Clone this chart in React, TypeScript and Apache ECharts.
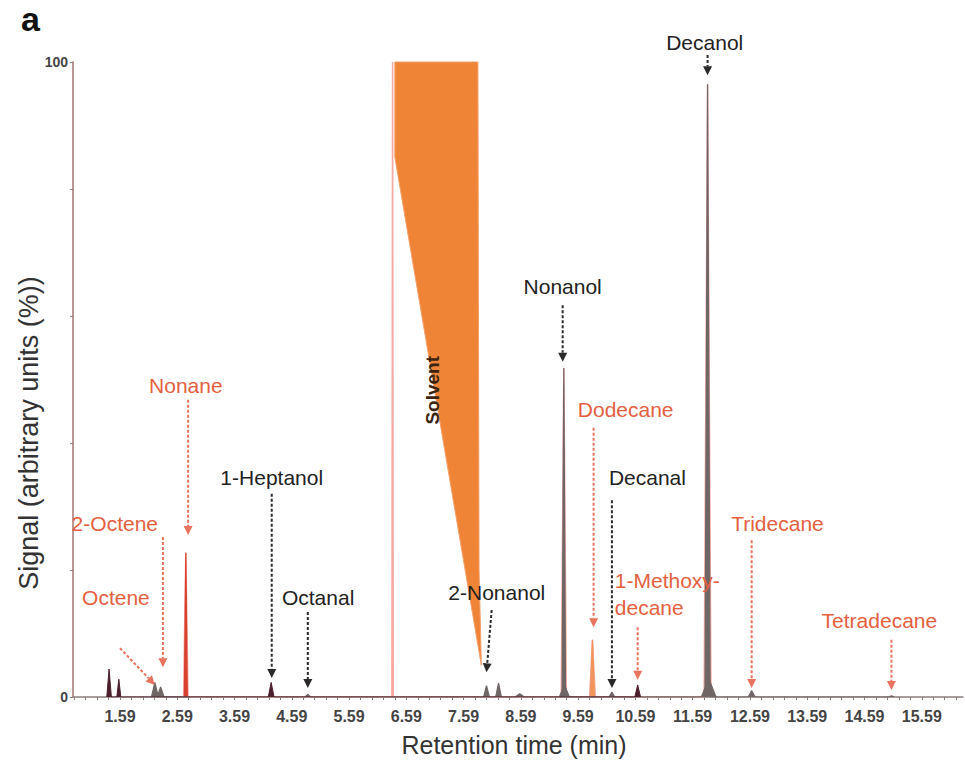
import React, { useEffect, useRef } from 'react';
import * as echarts from 'echarts';

// ---- axis ----
const X_MIN = 0.77;
const X_MAX = 16.31;
const xTickLabels = [1.59, 2.59, 3.59, 4.59, 5.59, 6.59, 7.59, 8.59, 9.59, 10.59, 11.59, 12.59, 13.59, 14.59, 15.59];
const yLabelValues = [0, 100];

// ---- chromatogram peaks (retention time, signal %, half width in min) ----
const pinkPeakTimes = [2.74, 6.35, 9.34, 9.84, 11.85];
const pinkPeakHeights = [22.7, 100, 51.8, 9.0, 96.5];
const pinkPeakHalfWidths = [0.04, 0.012, 0.045, 0.05, 0.06];

const redPeakTimes = [2.74];
const redPeakHeights = [22.7];
const redPeakHalfWidths = [0.025];

const orangePeakTimes = [9.84];
const orangePeakHeights = [9.0];
const orangePeakHalfWidths = [0.035];

const greyPeakTimes = [2.2, 2.3, 4.87, 7.99, 8.2, 8.57, 9.34, 10.18, 11.85, 12.62, 15.06];
const greyPeakHeights = [2.3, 1.6, 0.4, 1.8, 2.2, 0.5, 51.8, 0.8, 96.5, 1.0, 0.2];
const greyPeakHalfWidths = [0.06, 0.06, 0.05, 0.05, 0.05, 0.08, 0.03, 0.05, 0.045, 0.06, 0.05];

// broad feet at the base of the two tallest peaks
const footPeakTimes = [9.35, 11.87];
const footPeakHeights = [2.0, 3.0];
const footPeakHalfWidths = [0.09, 0.13];

const maroonPeakTimes = [1.4, 1.57, 4.23, 10.63];
const maroonPeakHeights = [4.4, 2.8, 2.3, 1.9];
const maroonPeakHalfWidths = [0.04, 0.035, 0.05, 0.05];

// solvent (truncated) outline
const solventTimes = [6.39, 7.84, 7.86, 7.9, 6.39];
const solventSignals = [100, 100, 20, 5, 85];

// ---- annotations ----
const labelNames = ['Decanol', 'Nonanol', 'Nonane', 'Dodecane', '1-Heptanol', 'Decanal', '2-Octene', 'Tridecane', '1-Methoxy-\ndecane', 'Octanal', '2-Nonanol', 'Octene', 'Tetradecane'];
const labelTimes = [11.8, 9.32, 2.74, 10.42, 4.24, 10.8, 1.5, 13.07, 10.23, 5.05, 8.17, 1.52, 14.85];
const labelSignals = [103.1, 64.6, 49.1, 45.2, 34.5, 34.5, 27.4, 27.4, 16.2, 15.6, 16.5, 15.6, 12.0];
const labelKinds = ['black', 'black', 'red', 'red', 'black', 'black', 'red', 'red', 'red', 'black', 'black', 'red', 'red'];

const arrowStartTimes = [11.85, 9.32, 2.78, 9.86, 4.24, 10.18, 2.34, 12.62, 10.63, 4.87, 8.08, 1.59, 15.06];
const arrowStartSignals = [101.1, 61.7, 46.8, 42.4, 32.0, 31.0, 25.2, 24.7, 11.0, 13.4, 13.7, 7.7, 9.0];
const arrowEndTimes = [11.85, 9.32, 2.78, 9.86, 4.24, 10.18, 2.34, 12.62, 10.63, 4.87, 7.99, 2.2, 15.06];
const arrowEndSignals = [97.9, 52.8, 25.5, 11.0, 3.0, 1.4, 4.7, 1.4, 2.7, 1.4, 3.9, 1.9, 1.1];

const solventLabel = 'Solvent';
const solventLabelTime = 7.05;
const solventLabelSignal = 48.3;

const FONT = '"Liberation Sans", Arial, Helvetica, sans-serif';
const RED = '#e4603f';
const RED_ARROW = '#e8735e';
const BLACK = '#222222';

function peakLine(times: number[], heights: number[], hws: number[]) {
  const idx = times.map((_, i) => i).sort((a, b) => times[a] - times[b]);
  const pts: number[][] = [];
  idx.forEach((i) => {
    pts.push([times[i] - hws[i], 0]);
    pts.push([times[i], heights[i]]);
    pts.push([times[i] + hws[i], 0]);
  });
  return pts;
}

function traceSeries(name: string, color: string, data: number[][], z: number, width = 1) {
  return {
    name,
    type: 'line',
    data,
    showSymbol: false,
    symbol: 'none',
    silent: true,
    z,
    lineStyle: { color, width },
    areaStyle: { color, opacity: 1 },
  };
}

export default function App() {
  const ref = useRef<HTMLDivElement>(null);
  useEffect(() => {
    if (!ref.current) return;
    const chart = echarts.init(ref.current, undefined, { renderer: 'svg' });

    const tickValues: number[] = [];
    for (let k = 0; 0.79 + 0.2 * k < X_MAX; k++) tickValues.push(+(0.79 + 0.2 * k).toFixed(2));

    const option: any = {
      animation: false,
      backgroundColor: '#ffffff',
      grid: { left: 73, right: 2, top: 62, bottom: 67, containLabel: false, outerBoundsMode: 'none' },
      xAxis: {
        type: 'value',
        min: X_MIN,
        max: X_MAX,
        axisLine: { show: true, onZero: false, lineStyle: { color: '#8c7d7d', width: 1.5 } },
        axisTick: { show: true, customValues: tickValues, length: 3, lineStyle: { color: '#8c7d7d' } },
        axisLabel: {
          show: true,
          customValues: xTickLabels,
          formatter: (v: number) => v.toFixed(2),
          fontFamily: FONT,
          fontSize: 16,
          fontWeight: 'bold',
          color: '#444',
          margin: 11,
        },
        splitLine: { show: false },
      },
      yAxis: {
        type: 'value',
        min: 0,
        max: 100,
        interval: 20,
        axisLine: { show: true, onZero: false, lineStyle: { color: '#a87272', width: 1.5 } },
        axisTick: { show: true, length: 3, lineStyle: { color: '#8c7d7d' } },
        axisLabel: {
          formatter: (v: number) => (yLabelValues.includes(v) ? String(v) : ''),
          fontFamily: FONT,
          fontSize: 14,
          fontWeight: 'bold',
          color: '#444',
          margin: 5,
        },
        splitLine: { show: false },
      },
      graphic: [
        { type: 'text', x: 21, y: 2, style: { text: 'a', font: `bold 34px ${FONT}`, fill: '#111' } },
        {
          type: 'text', x: 29, y: 433, rotation: Math.PI / 2,
          style: { text: 'Signal (arbitrary units (%))', font: `27px ${FONT}`, fill: '#333', align: 'center', verticalAlign: 'middle' },
        },
        {
          type: 'text', x: 514, y: 745,
          style: { text: 'Retention time (min)', font: `25px ${FONT}`, fill: '#333', align: 'center', verticalAlign: 'middle' },
        },
      ],
      series: [
        traceSeries('pink', '#f4aaa2', peakLine(pinkPeakTimes, pinkPeakHeights, pinkPeakHalfWidths), 1, 1.5),
        {
          name: 'solvent',
          type: 'custom',
          data: [[solventTimes[0], solventSignals[0]]],
          encode: { x: 0, y: 1 },
          z: 2,
          silent: true,
          renderItem: (_p: any, api: any) => ({
            type: 'polygon',
            shape: { points: solventTimes.map((t, i) => api.coord([t, solventSignals[i]])) },
            style: { fill: '#f08436', stroke: '#f3a06a', lineWidth: 1 },
          }),
        },
        traceSeries('red', '#d8402e', peakLine(redPeakTimes, redPeakHeights, redPeakHalfWidths), 3, 1.2),
        traceSeries('orange', '#f0945a', peakLine(orangePeakTimes, orangePeakHeights, orangePeakHalfWidths), 3, 1.2),
        traceSeries('grey', '#6f6666', peakLine(greyPeakTimes, greyPeakHeights, greyPeakHalfWidths), 4, 1.2),
        traceSeries('greyFoot', '#6f6666', peakLine(footPeakTimes, footPeakHeights, footPeakHalfWidths), 4, 1),
        traceSeries('maroon', '#4b1f2c', peakLine(maroonPeakTimes, maroonPeakHeights, maroonPeakHalfWidths), 5, 1),
        {
          name: 'arrows',
          type: 'custom',
          clip: false,
          silent: true,
          z: 10,
          data: arrowStartTimes.map((t, i) => [t, arrowStartSignals[i], arrowEndTimes[i], arrowEndSignals[i]]),
          encode: { x: [0, 2], y: [1, 3] },
          renderItem: (params: any, api: any) => {
            const i = params.dataIndex;
            const color = labelKinds[i] === 'red' ? RED_ARROW : '#2a2a2a';
            const p1 = api.coord([api.value(0), api.value(1)]);
            const p2 = api.coord([api.value(2), api.value(3)]);
            const dx = p2[0] - p1[0];
            const dy = p2[1] - p1[1];
            const len = Math.hypot(dx, dy) || 1;
            const ux = dx / len;
            const uy = dy / len;
            const headL = 9;
            const headW = 4.5;
            const bx = p2[0] - ux * headL;
            const by = p2[1] - uy * headL;
            const nx = -uy;
            const ny = ux;
            return {
              type: 'group',
              children: [
                { type: 'line', shape: { x1: p1[0], y1: p1[1], x2: bx, y2: by }, style: { stroke: color, lineWidth: 2, lineDash: [3, 2] } },
                {
                  type: 'polygon',
                  shape: { points: [[p2[0], p2[1]], [bx + nx * headW, by + ny * headW], [bx - nx * headW, by - ny * headW]] },
                  style: { fill: color },
                },
              ],
            };
          },
        },
        {
          name: 'labels',
          type: 'custom',
          clip: false,
          silent: true,
          z: 11,
          data: labelTimes.map((t, i) => [t, labelSignals[i]]),
          encode: { x: 0, y: 1 },
          renderItem: (params: any, api: any) => {
            const i = params.dataIndex;
            const p = api.coord([api.value(0), api.value(1)]);
            const multi = labelNames[i].includes('\n');
            return {
              type: 'text',
              x: p[0],
              y: p[1],
              style: {
                text: labelNames[i],
                fill: labelKinds[i] === 'red' ? RED : BLACK,
                font: `21px ${FONT}`,
                align: multi ? 'left' : 'center',
                verticalAlign: 'middle',
                lineHeight: 27,
              },
            };
          },
        },
        {
          name: 'solventLabel',
          type: 'custom',
          clip: false,
          silent: true,
          z: 12,
          data: [[solventLabelTime, solventLabelSignal]],
          encode: { x: 0, y: 1 },
          renderItem: (_params: any, api: any) => {
            const p = api.coord([api.value(0), api.value(1)]);
            return {
              type: 'text',
              x: p[0],
              y: p[1],
              rotation: Math.PI / 2,
              style: { text: solventLabel, fill: '#3b2412', font: `600 19px ${FONT}`, align: 'center', verticalAlign: 'middle' },
            };
          },
        },
      ],
    };
    chart.setOption(option);
    return () => chart.dispose();
  }, []);
  return (
    <div
      ref={ref}
      style={{ position: 'fixed', left: 0, top: 0, width: 965, height: 764, background: '#fff' }}
    />
  );
}
